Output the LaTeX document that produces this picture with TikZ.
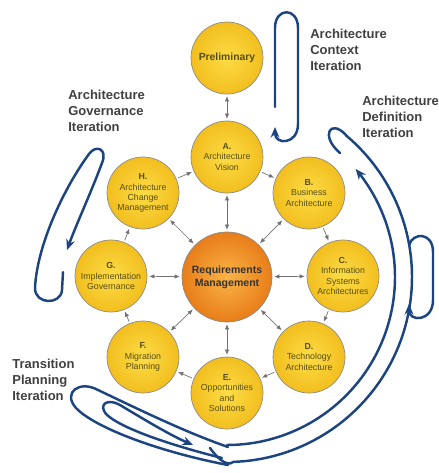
\documentclass[tikz,border=0pt]{standalone}
\usepackage{fontspec}
\setmainfont{Liberation Sans}
\usetikzlibrary{arrows.meta}
\definecolor{loopblue}{RGB}{28,68,128}
\definecolor{phasetext}{RGB}{88,78,20}
\begin{document}
\begin{tikzpicture}[x=0.02cm, y=-0.02cm,
    phase/.style={circle, draw=black!45, line width=0.4pt, minimum size=72*0.02cm, inner sep=0pt,
      inner color={rgb,255:red,252;green,220;blue,70}, outer color={rgb,255:red,242;green,190;blue,30},
      text=phasetext, font=\fontsize{5}{5.8}\selectfont, align=center},
    reqs/.style={circle, draw=black!45, line width=0.4pt, minimum size=90*0.02cm, inner sep=0pt,
      inner color={rgb,255:red,250;green,180;blue,70}, outer color={rgb,255:red,232;green,125;blue,25},
      text=black!80, font=\bfseries\fontsize{6}{7.5}\selectfont, align=center},
    link/.style={draw=black!55, line width=0.4pt, {Latex[length=3pt,width=2.5pt]}-{Latex[length=3pt,width=2.5pt]}, shorten <=1pt, shorten >=1pt},
    cycle/.style={draw=black!55, line width=0.4pt, -{Latex[length=3pt,width=2.5pt]}, shorten <=1pt, shorten >=1pt},
    iter/.style={draw=loopblue, line width=1.4pt, line cap=round},
    itertip/.style={iter, -{Stealth[length=6pt,width=5pt]}},
    label/.style={font=\bfseries\fontsize{7.4}{9}\selectfont, text=black!75, align=left, anchor=north west, inner sep=0pt}]
\useasboundingbox (0,0) rectangle (439,473);

% phases
\node[phase] (P) at (227,58) {\textbf{\fontsize{5.9}{7}\selectfont Preliminary}};
\node[phase] (A) at (227,157) {\textbf{A.}\\Architecture\\Vision};
\node[phase] (B) at (309,193) {\textbf{B.}\\Business\\Architecture};
\node[phase] (C) at (343,276) {\textbf{C.}\\Information\\Systems\\Architectures};
\node[phase] (D) at (309,357) {\textbf{D.}\\Technology\\Architecture};
\node[phase] (E) at (227,393) {\textbf{E.}\\Opportunities\\and\\Solutions};
\node[phase] (F) at (143,357) {\textbf{F.}\\Migration\\Planning};
\node[phase] (G) at (111,276) {\textbf{G.}\\Implementation\\Governance};
\node[phase] (H) at (143,193) {\textbf{H.}\\Architecture\\Change\\Management};
\node[reqs] (R) at (227,277) {Requirements\\Management};

% links
\draw[link] (P) -- (A);
\foreach \n in {A,B,C,D,E,F,G,H}
  \draw[link] (R) -- (\n);
\draw[cycle] (A) -- (B);
\draw[cycle] (B) -- (C);
\draw[cycle] (C) -- (D);
\draw[cycle] (D) -- (E);
\draw[cycle] (E) -- (F);
\draw[cycle] (F) -- (G);
\draw[cycle] (G) -- (H);
\draw[cycle] (H) -- (A);

% labels
\node[label] (ctx) at (310,29) {Architecture\\Context\\Iteration};
\node[label] (def) at (362,96) {Architecture\\Definition\\Iteration};
\node[label] (gov) at (68,90) {Architecture\\Governance\\Iteration};
\node[label] (trn) at (12,359) {Transition\\Planning\\Iteration};

% context iteration
\draw[itertip] (275,107) -- (275,28) .. controls (275,7) and (298,7) .. (298,28)
  -- (298,124) .. controls (298,145) and (275,145) .. (275,127);

% governance iteration
\draw[itertip] (63,272) -- (62,290) .. controls (61,305) and (35,305) .. (35,288)
  .. controls (37,245) and (64,188) .. (89,154) .. controls (96,144) and (108,149) .. (102,163)
  .. controls (90,195) and (76,225) .. (67,250);

% definition iteration
\draw[iter] (340,153) .. controls (320,136) and (330,118) .. (346,135)
  plot[smooth, variable=\t, domain=-50:88, samples=45] ({227+185*cos(\t)}, {277+185*sin(\t)})
  .. controls (226,468) and (215,455) .. (210,448);
\draw[itertip] plot[smooth, variable=\t, domain=90:-40, samples=40] ({227+168*cos(\t)}, {277+168*sin(\t)});
\draw[itertip] (409,245) .. controls (413,232) and (433,232) .. (433,252)
  -- (433,300) .. controls (433,322) and (409,322) .. (409,304);

% transition iteration
\draw[iter] (228,465) .. controls (160,452) and (95,428) .. (76,408)
  .. controls (62,392) and (80,380) .. (98,390) .. controls (140,410) and (185,432) .. (228,447);
\draw[itertip] (222,458) .. controls (170,445) and (120,428) .. (106,414)
  .. controls (98,404) and (108,398) .. (120,405) .. controls (145,420) and (170,435) .. (193,445);
\end{tikzpicture}
\end{document}
